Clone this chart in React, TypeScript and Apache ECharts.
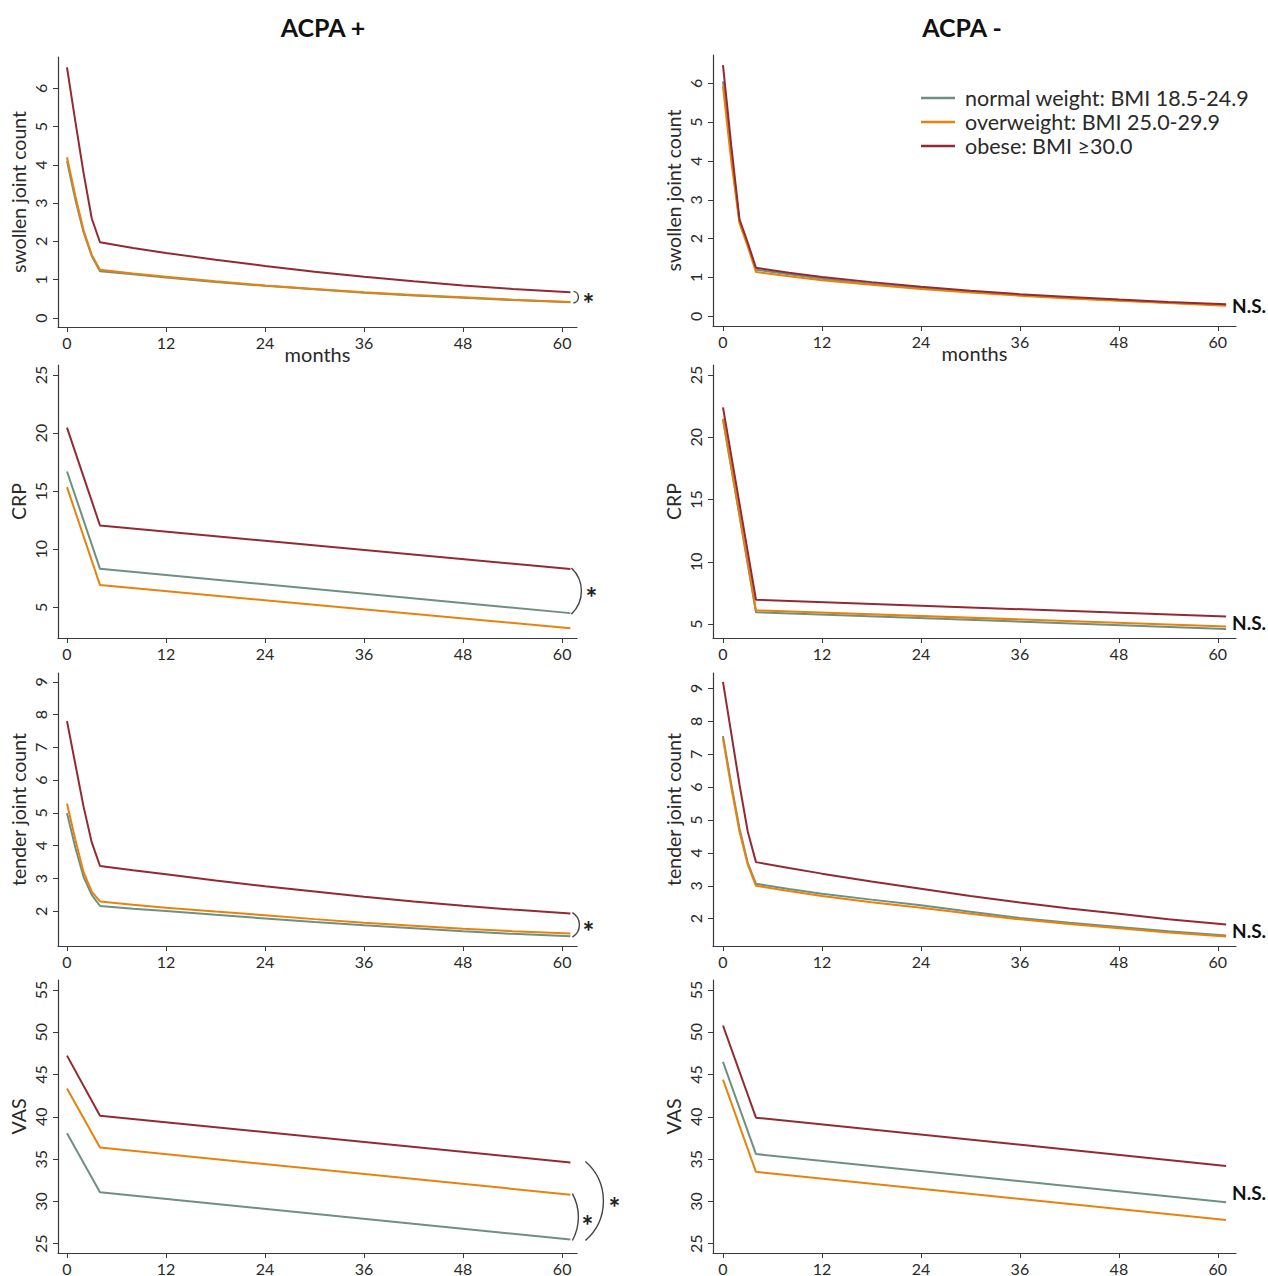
import React, { useEffect, useRef } from "react";
import * as echarts from "echarts";

const FONT = "Lato, 'Noto Sans', sans-serif";
const seriesNames = ["normal weight: BMI 18.5-24.9", "overweight: BMI 25.0-29.9", "obese: BMI ≥30.0"];
const colors = ["#6E9080", "#E8820E", "#932A31"];
const columnTitles = ["ACPA +", "ACPA -"];
const rowLabels = ["swollen joint count", "CRP", "tender joint count", "VAS"];
const xTicks = [0, 12, 24, 36, 48, 60];
const yTicksSJC = [0, 1, 2, 3, 4, 5, 6];
const yTicksCRP = [5, 10, 15, 20, 25];
const yTicksTJC = [2, 3, 4, 5, 6, 7, 8, 9];
const yTicksVAS = [25, 30, 35, 40, 45, 50, 55];

// time points (months)
const monthsCurve = [0, 1, 2, 3, 4, 8, 12, 18, 24, 30, 36, 42, 48, 54, 61];
const monthsLinear = [0, 4, 61];

// swollen joint count, ACPA+
const sjcPosNormal = [4.1, 3.1, 2.25, 1.62, 1.22, 1.14, 1.06, 0.94, 0.84, 0.75, 0.66, 0.59, 0.53, 0.47, 0.41];
const sjcPosOver = [4.2, 3.2, 2.3, 1.65, 1.26, 1.16, 1.08, 0.96, 0.85, 0.76, 0.67, 0.6, 0.54, 0.48, 0.42];
const sjcPosObese = [6.55, 5.15, 3.8, 2.6, 1.98, 1.83, 1.7, 1.52, 1.36, 1.21, 1.08, 0.96, 0.85, 0.76, 0.67];
// swollen joint count, ACPA-
const sjcNegNormal = [6.05, 4.15, 2.45, 1.85, 1.2, 1.08, 0.97, 0.84, 0.73, 0.63, 0.55, 0.47, 0.41, 0.35, 0.29];
const sjcNegOver = [5.92, 4.0, 2.4, 1.8, 1.14, 1.03, 0.93, 0.81, 0.7, 0.61, 0.53, 0.46, 0.4, 0.34, 0.27];
const sjcNegObese = [6.47, 4.4, 2.5, 1.9, 1.25, 1.12, 1.01, 0.88, 0.76, 0.66, 0.57, 0.5, 0.43, 0.37, 0.31];
// CRP
const crpPosNormal = [16.7, 8.32, 4.51];
const crpPosOver = [15.35, 6.92, 3.2];
const crpPosObese = [20.47, 12.05, 8.3];
const crpNegNormal = [21.4, 5.95, 4.6];
const crpNegOver = [21.5, 6.1, 4.8];
const crpNegObese = [22.4, 6.95, 5.6];
// tender joint count, ACPA+
const tjcPosNormal = [5.0, 3.95, 3.05, 2.5, 2.16, 2.08, 2.01, 1.89, 1.78, 1.67, 1.57, 1.48, 1.39, 1.31, 1.24];
const tjcPosOver = [5.29, 4.2, 3.2, 2.6, 2.3, 2.2, 2.11, 1.99, 1.88, 1.76, 1.65, 1.56, 1.47, 1.39, 1.32];
const tjcPosObese = [7.8, 6.5, 5.2, 4.1, 3.38, 3.25, 3.13, 2.94, 2.76, 2.6, 2.44, 2.3, 2.17, 2.05, 1.93];
// tender joint count, ACPA-
const tjcNegNormal = [7.55, 6.1, 4.75, 3.7, 3.06, 2.9, 2.76, 2.58, 2.41, 2.21, 2.02, 1.88, 1.75, 1.62, 1.49];
const tjcNegOver = [7.48, 6.0, 4.65, 3.65, 3.0, 2.84, 2.69, 2.5, 2.33, 2.15, 1.98, 1.84, 1.71, 1.58, 1.46];
const tjcNegObese = [9.2, 7.64, 6.08, 4.65, 3.72, 3.54, 3.37, 3.13, 2.91, 2.69, 2.49, 2.31, 2.15, 1.98, 1.82];
// VAS
const vasPosNormal = [38.06, 31.08, 25.5];
const vasPosOver = [43.35, 36.37, 30.8];
const vasPosObese = [47.24, 40.14, 34.6];
const vasNegNormal = [46.5, 35.6, 29.9];
const vasNegOver = [44.4, 33.5, 27.8];
const vasNegObese = [50.8, 39.9, 34.2];

type Panel = {
  row: number;
  col: number;
  months: number[];
  values: number[][];
  yMin: number;
  yMax: number;
  yTicks: number[];
};

const panels: Panel[] = [
  { row: 0, col: 0, months: monthsCurve, values: [sjcPosNormal, sjcPosOver, sjcPosObese], yMin: -0.235, yMax: 6.82, yTicks: yTicksSJC },
  { row: 0, col: 1, months: monthsCurve, values: [sjcNegNormal, sjcNegOver, sjcNegObese], yMin: -0.25, yMax: 6.73, yTicks: yTicksSJC },
  { row: 1, col: 0, months: monthsLinear, values: [crpPosNormal, crpPosOver, crpPosObese], yMin: 2.37, yMax: 25.86, yTicks: yTicksCRP },
  { row: 1, col: 1, months: monthsLinear, values: [crpNegNormal, crpNegOver, crpNegObese], yMin: 3.88, yMax: 25.8, yTicks: yTicksCRP },
  { row: 2, col: 0, months: monthsCurve, values: [tjcPosNormal, tjcPosOver, tjcPosObese], yMin: 0.94, yMax: 9.27, yTicks: yTicksTJC },
  { row: 2, col: 1, months: monthsCurve, values: [tjcNegNormal, tjcNegOver, tjcNegObese], yMin: 1.17, yMax: 9.47, yTicks: yTicksTJC },
  { row: 3, col: 0, months: monthsLinear, values: [vasPosNormal, vasPosOver, vasPosObese], yMin: 23.9, yMax: 56.18, yTicks: yTicksVAS },
  { row: 3, col: 1, months: monthsLinear, values: [vasNegNormal, vasNegOver, vasNegObese], yMin: 23.9, yMax: 56.18, yTicks: yTicksVAS },
];

const colLayout = [
  { left: 58, width: 519, xMin: -1.09, xMax: 61.8 },
  { left: 713, width: 523, xMin: -1.21, xMax: 62.2 },
];
const rowLayout = [
  [{ top: 57, height: 270 }, { top: 55, height: 271 }],
  [{ top: 365, height: 273 }, { top: 365, height: 273 }],
  [{ top: 673, height: 273 }, { top: 673, height: 273 }],
  [{ top: 980, height: 274 }, { top: 980, height: 274 }],
];

const AXIS_COLOR = "#3a3a3a";
const TEXT_COLOR = "#2a2a2a";

export default function App() {
  const ref = useRef<HTMLDivElement>(null);

  useEffect(() => {
    document.body.style.margin = "0";
    if (!ref.current) return;
    const chart = echarts.init(ref.current, undefined, { renderer: "svg" });

    const grid: any[] = [];
    const xAxis: any[] = [];
    const yAxis: any[] = [];
    const series: any[] = [];

    panels.forEach((p, i) => {
      const c = colLayout[p.col];
      const r = rowLayout[p.row][p.col];
      grid.push({ left: c.left, top: r.top, width: c.width, height: r.height, containLabel: false });
      xAxis.push({
        type: "value",
        gridIndex: i,
        min: c.xMin,
        max: c.xMax,
        name: p.row === 0 ? "months" : "",
        nameLocation: "middle",
        nameGap: 17,
        nameMoveOverlap: false,
        nameTextStyle: { fontFamily: FONT, fontSize: 20, color: TEXT_COLOR },
        axisLine: { onZero: false, lineStyle: { color: AXIS_COLOR, width: 1.2 } },
        axisTick: { show: true, length: 5, customValues: xTicks, lineStyle: { color: AXIS_COLOR } },
        axisLabel: { customValues: xTicks, margin: 7, fontFamily: FONT, fontSize: 16, color: TEXT_COLOR },
        splitLine: { show: false },
      });
      yAxis.push({
        type: "value",
        gridIndex: i,
        min: p.yMin,
        max: p.yMax,
        name: rowLabels[p.row],
        nameLocation: "middle",
        nameRotate: 90,
        nameGap: 30,
        nameMoveOverlap: false,
        nameTextStyle: { fontFamily: FONT, fontSize: 19.5, color: TEXT_COLOR },
        axisLine: { show: true, onZero: false, lineStyle: { color: AXIS_COLOR, width: 1.2 } },
        axisTick: { show: true, length: 5, customValues: p.yTicks, lineStyle: { color: AXIS_COLOR } },
        axisLabel: { customValues: p.yTicks, rotate: 90, margin: 10, fontFamily: FONT, fontSize: 16, color: TEXT_COLOR },
        splitLine: { show: false },
      });
      p.values.forEach((vals, k) => {
        series.push({
          type: "line",
          name: seriesNames[k],
          xAxisIndex: i,
          yAxisIndex: i,
          data: p.months.map((m, j) => [m, vals[j]]),
          showSymbol: false,
          symbol: "none",
          lineStyle: { color: colors[k], width: 2 },
          itemStyle: { color: colors[k] },
          z: 2 + k,
        });
      });
    });

    chart.setOption({
      animation: false,
      textStyle: { fontFamily: FONT },
      grid,
      xAxis,
      yAxis,
      series,
      legend: {
        data: seriesNames,
        orient: "vertical",
        left: 916,
        top: 82,
        icon: "rect",
        itemWidth: 34,
        itemHeight: 2.5,
        itemGap: 2,
        textStyle: { fontFamily: FONT, fontSize: 21.5, lineHeight: 20, color: TEXT_COLOR, padding: [0, 0, 0, 5] },
        selectedMode: false,
      },
    });

    const px = (g: number, x: number, y: number) => chart.convertToPixel({ gridIndex: g } as any, [x, y]) as number[];
    const endMonth = monthsCurve[monthsCurve.length - 1];
    const graphics: any[] = [];

    columnTitles.forEach((t, c) => {
      graphics.push({
        type: "text",
        x: c === 0 ? 323 : 962,
        y: 27,
        style: { text: t, font: `bold 25px ${FONT}`, fill: "#111", align: "center", verticalAlign: "middle", textAlign: "center", textVerticalAlign: "middle" },
      });
    });

    const bracket = (g: number, vTop: number, vBot: number, gap: number, bulge: number, pad: number) => {
      const xEnd = px(g, endMonth, vTop)[0] + gap;
      const y1 = px(g, endMonth, vTop)[1] - pad;
      const y2 = px(g, endMonth, vBot)[1] + pad;
      const h = (y2 - y1) / 2;
      const rad = (h * h + bulge * bulge) / (2 * bulge);
      const cx = xEnd + bulge - rad;
      const cy = (y1 + y2) / 2;
      const th = Math.asin(Math.min(1, h / rad));
      graphics.push({
        type: "arc",
        shape: { cx, cy, r: rad, startAngle: -th, endAngle: th, clockwise: true },
        style: { stroke: "#444", lineWidth: 1.4, fill: "none" },
      });
      return { x: xEnd + bulge, y: cy };
    };
    const star = (x: number, y: number) => {
      graphics.push({
        type: "text",
        x,
        y,
        style: { text: "*", font: `bold 28px ${FONT}`, fill: "#222", align: "center", verticalAlign: "middle", textAlign: "center", textVerticalAlign: "middle" },
      });
    };
    const last = (a: number[]) => a[a.length - 1];

    // ACPA+ significance brackets
    let b = bracket(0, last(sjcPosObese), last(sjcPosOver), 3, 5, 1);
    star(b.x + 10, b.y + 6);
    b = bracket(2, last(crpPosObese), last(crpPosNormal), 1, 10, 1);
    star(b.x + 10, b.y + 6);
    b = bracket(4, last(tjcPosObese), last(tjcPosNormal), 2, 7, 1);
    star(b.x + 9, b.y + 6);
    b = bracket(6, last(vasPosOver), last(vasPosNormal), 2, 6, 1);
    star(b.x + 9, b.y + 8);
    b = bracket(6, last(vasPosObese), last(vasPosNormal), 15, 18, 1);
    star(b.x + 11, b.y + 6);

    // ACPA- N.S. labels
    [1, 3, 5, 7].forEach((g) => {
      const ends = panels[g].values.map((v) => last(v));
      const mid = (Math.max(...ends) + Math.min(...ends)) / 2;
      const p = px(g, endMonth, mid);
      graphics.push({
        type: "text",
        x: 1232,
        y: p[1],
        style: { text: "N.S.", font: `bold 19px ${FONT}`, fill: "#111", align: "left", verticalAlign: "middle", textAlign: "left", textVerticalAlign: "middle" },
      });
    });

    chart.setOption({ graphic: graphics });

    return () => chart.dispose();
  }, []);

  return <div ref={ref} style={{ width: 1268, height: 1276 }} />;
}
